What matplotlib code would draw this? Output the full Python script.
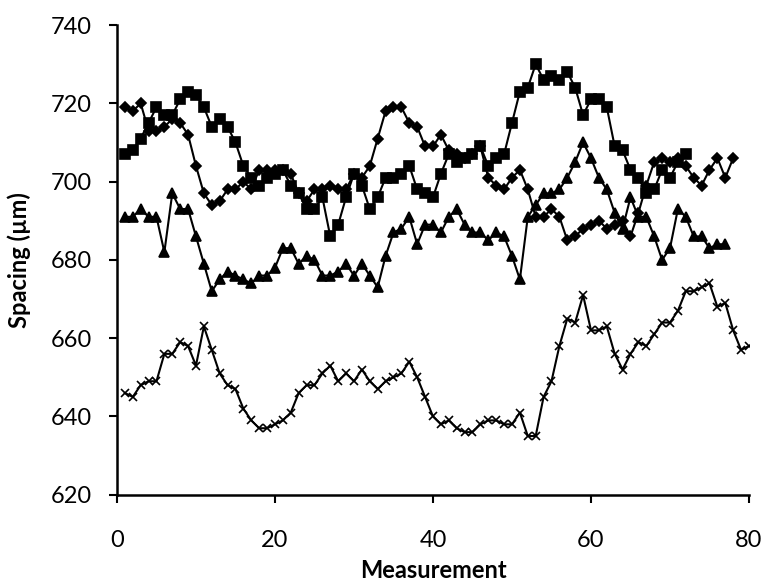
import numpy as np
import matplotlib.pyplot as plt

plt.rcParams['font.family'] = ['Lato', 'DejaVu Sans']

# spacing readings per measurement, one list per sample
diamond = [719, 718, 720, 713, 713, 714, 716, 715, 712, 704,
           697, 694, 695, 698, 698, 700, 698, 703, 703, 703,
           703, 702, 697, 695, 698, 698, 699, 698, 698, 702,
           701, 704, 711, 718, 719, 719, 715, 714, 709, 709,
           712, 708, 707, 706, 707, 709, 701, 699, 698, 701,
           703, 698, 691, 691, 693, 691, 685, 686, 688, 689,
           690, 688, 689, 690, 686, 692, 699, 705, 706, 705,
           706, 704, 701, 699, 703, 706, 701, 706]
square = [707, 708, 711, 715, 719, 717, 717, 721, 723, 722,
          719, 714, 716, 714, 710, 704, 701, 699, 701, 702,
          703, 699, 697, 693, 693, 696, 686, 689, 696, 702,
          699, 693, 696, 701, 701, 702, 704, 698, 697, 696,
          702, 707, 705, 706, 707, 709, 704, 706, 707, 715,
          723, 724, 730, 726, 727, 726, 728, 724, 717, 721,
          721, 719, 709, 708, 703, 701, 697, 698, 703, 701,
          705, 707]
triangle = [691, 691, 693, 691, 691, 682, 697, 693, 693, 686,
            679, 672, 675, 677, 676, 675, 674, 676, 676, 678,
            683, 683, 679, 681, 680, 676, 676, 677, 679, 676,
            679, 676, 673, 681, 687, 688, 691, 684, 689, 689,
            687, 691, 693, 689, 687, 687, 685, 687, 686, 681,
            675, 691, 694, 697, 697, 698, 701, 705, 710, 706,
            701, 698, 692, 688, 696, 691, 691, 686, 680, 683,
            693, 691, 686, 686, 683, 684, 684]
cross = [646, 645, 648, 649, 649, 656, 656, 659, 658, 653,
         663, 657, 651, 648, 647, 642, 639, 637, 637, 638,
         639, 641, 646, 648, 648, 651, 653, 649, 651, 649,
         652, 649, 647, 649, 650, 651, 654, 650, 645, 640,
         638, 639, 637, 636, 636, 638, 639, 639, 638, 638,
         641, 635, 635, 645, 649, 658, 665, 664, 671, 662,
         662, 663, 656, 652, 656, 659, 658, 661, 664, 664,
         667, 672, 672, 673, 674, 668, 669, 662, 657, 658]

fig = plt.figure(figsize=(7.66, 5.87), dpi=100)
ax = fig.add_axes([0.1527, 0.1571, 0.8251, 0.8003])

series = [(diamond, 'D', 5), (square, 's', 7), (triangle, '^', 6.5), (cross, 'x', 6)]
for vals, mk, ms in series:
    x = np.arange(1, len(vals) + 1)
    ax.plot(x, vals, color='black', lw=1.5, marker=mk, ms=ms,
            mew=1.2, mfc='black', mec='black')

ax.set_xlim(0, 80)
ax.set_ylim(620, 740)
ax.set_xticks(range(0, 81, 20))
ax.set_yticks(range(620, 741, 20))
for side in ('top', 'right'):
    ax.spines[side].set_visible(False)
for side in ('left', 'bottom'):
    ax.spines[side].set_linewidth(1.8)
ax.tick_params(direction='out', length=6, width=1.5, labelsize=17)
ax.tick_params(axis='x', pad=19)
ax.tick_params(axis='y', pad=12)
ax.set_xlabel('Measurement', fontsize=17, fontweight='bold', labelpad=6)
ax.set_ylabel('Spacing (µm)', fontsize=17, fontweight='bold', labelpad=14)

fig.savefig('out.png', dpi=100)
